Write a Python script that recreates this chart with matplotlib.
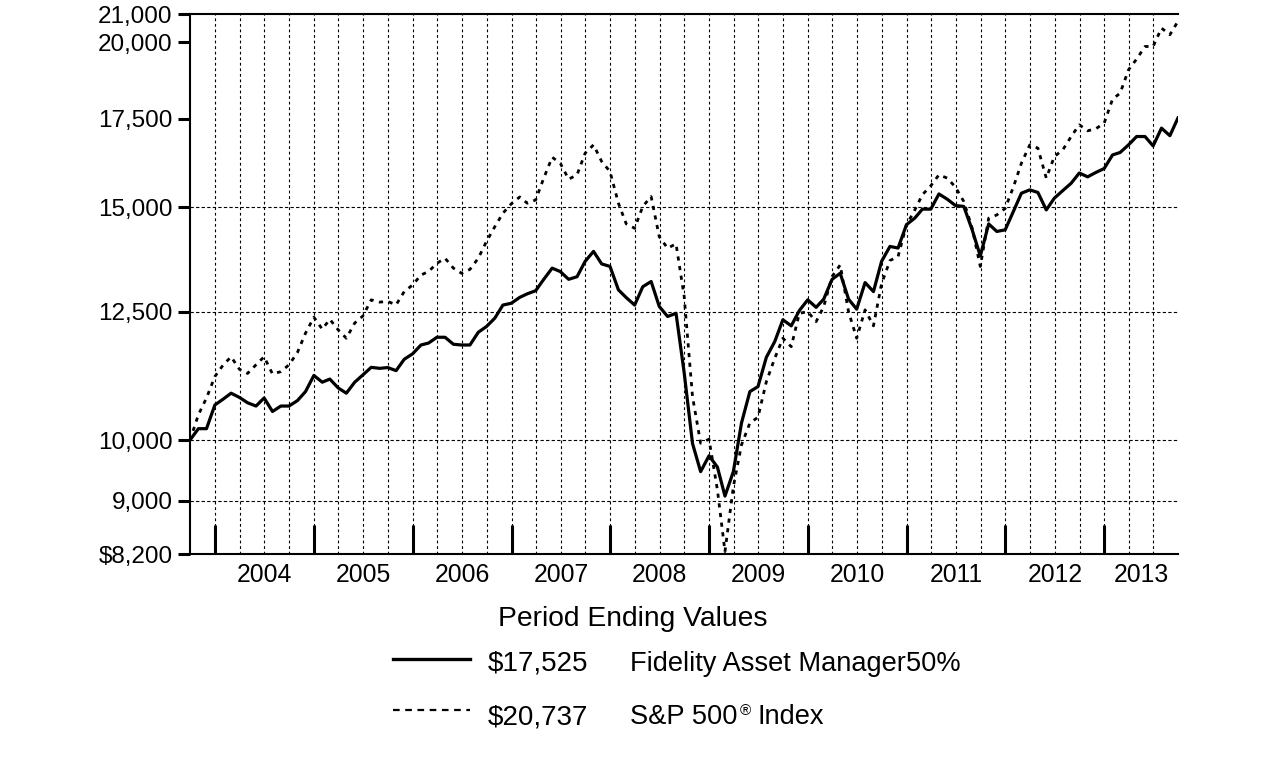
import numpy as np
import pandas as pd
import matplotlib.pyplot as plt
import matplotlib.dates as mdates
from matplotlib.lines import Line2D
from matplotlib.transforms import blended_transform_factory

plt.rcParams['font.family'] = ['Liberation Sans', 'DejaVu Sans']

# monthly values of a $10,000 investment, Sep 2003 .. Sep 2013
months = pd.date_range('2003-09-30', '2013-09-30', freq='ME')

fund = [
    10000, 10200, 10200, 10630, 10740, 10850, 10770, 10670, 10610, 10760,
    10510, 10610, 10610, 10710, 10880, 11190, 11060, 11120, 10950, 10850,
    11060, 11200, 11350, 11330, 11345, 11285, 11510, 11620, 11800, 11840,
    11960, 11960, 11815, 11800, 11800, 12065, 12185, 12365, 12650, 12690,
    12820, 12900, 12970, 13230, 13490, 13410, 13230, 13290, 13650, 13890,
    13590, 13530, 12990, 12815, 12650, 13060, 13180, 12620, 12400, 12470,
    11250, 9940, 9465, 9730, 9540, 9070, 9465, 10300, 10880, 10975,
    11550, 11870, 12330, 12200, 12530, 12765, 12600, 12780, 13230, 13370,
    12780, 12560, 13155, 12950, 13650, 14010, 13970, 14550, 14720, 14950,
    14950, 15350, 15210, 15045, 15020, 14420, 13780, 14570, 14380, 14420,
    14900, 15370, 15460, 15390, 14930, 15240, 15440, 15640, 15920, 15815,
    15935, 16045, 16430, 16500, 16720, 16965, 16965, 16690, 17215, 16990,
    17525,
]

sp500 = [
    10000, 10450, 10760, 11170, 11400, 11560, 11310, 11230, 11400, 11560,
    11220, 11265, 11400, 11645, 12045, 12385, 12130, 12340, 12115, 11940,
    12260, 12410, 12765, 12715, 12730, 12655, 12950, 13100, 13330, 13410,
    13605, 13725, 13490, 13370, 13460, 13725, 14130, 14500, 14845, 15090,
    15270, 15105, 15190, 15780, 16365, 16195, 15750, 15870, 16480, 16720,
    16245, 15960, 15105, 14570, 14460, 15020, 15280, 14250, 13965, 14075,
    12850, 10785, 9945, 10015, 9170, 8235, 9220, 9915, 10300, 10405,
    11070, 11530, 11940, 11765, 12470, 12505, 12290, 12615, 13295, 13565,
    12500, 11940, 12545, 12200, 13130, 13670, 13765, 14545, 14930, 15330,
    15570, 15870, 15780, 15535, 15150, 14460, 13530, 14715, 14800, 14970,
    15550, 16195, 16720, 16625, 15780, 16385, 16575, 16965, 17315, 17135,
    17195, 17365, 18105, 18295, 19055, 19415, 19845, 19845, 20490, 20255,
    20737,
]

years = list(range(2004, 2014))
y_ticks = [8200, 9000, 10000, 12500, 15000, 17500, 20000, 21000]
y_labels = [r'\$8,200', '9,000', '10,000', '12,500', '15,000', '17,500', '20,000', '21,000']
grid_y = [9000, 10000, 12500, 15000]

names = ['Fidelity Asset Manager50%', 'S&P 500', 'Index']
end_values = [r'\$17,525', r'\$20,737']

W, H = 1276, 761
fig = plt.figure(figsize=(W / 100, H / 100), dpi=100)
ax = fig.add_axes([190 / W, 1 - 554 / H, (1178 - 190) / W, (554 - 14) / H])

x = mdates.date2num(months)
ax.plot(x, fund, color='black', lw=2.3, zorder=3)
ax.plot(x, sp500, color='black', lw=2.0, linestyle=(0, (1.5, 2.0)), zorder=3)

ax.set_yscale('log')
ax.set_ylim(8200, 21000)
ax.set_xlim(x[0], x[-1])
ax.set_yticks(y_ticks)
ax.set_yticklabels(y_labels)
ax.yaxis.set_minor_locator(plt.NullLocator())
ax.tick_params(axis='y', which='major', direction='out', length=8.6, width=2.2,
               labelsize=17.5, pad=4)

# year boundary ticks and quarter gridlines
year_starts = mdates.date2num(pd.to_datetime([f'{y}-01-01' for y in years]))
quarters = pd.date_range('2004-01-01', '2013-07-01', freq='QS')
ax.set_xticks(year_starts)
ax.set_xticklabels([])
ax.tick_params(axis='x', which='major', direction='in', length=21, width=2.2)
ax.vlines(mdates.date2num(quarters), 8200, 21000, colors='black', lw=0.8,
          linestyles=(0, (2.5, 2.5)), zorder=1)
ax.hlines(grid_y, x[0], x[-1], colors='black', lw=0.8,
          linestyles=(0, (3, 2)), zorder=1)

# year labels centred in each year's span
trans = blended_transform_factory(ax.transData, ax.transAxes)
bounds = list(year_starts) + [mdates.date2num(pd.Timestamp('2014-01-01'))]
for k, yr in enumerate(years):
    a = max(bounds[k], x[0])
    b = min(bounds[k + 1], x[-1])
    ax.text((a + b) / 2, -0.039, str(yr), transform=trans, ha='center',
            va='center', fontsize=17.8)

for side in ['left', 'top', 'bottom']:
    ax.spines[side].set_linewidth(1.5)
ax.spines['right'].set_visible(False)

# legend block
def fx(px):
    return px / W

def fy(py):
    return 1 - py / H

fig.text(fx(633), fy(619), 'Period Ending Values', ha='center', va='center',
         fontsize=20.3)
fig.add_artist(Line2D([fx(393), fx(470)], [fy(659)] * 2, color='black', lw=2.4))
fig.add_artist(Line2D([fx(393), fx(470)], [fy(710)] * 2, color='black', lw=1.6,
                      linestyle=(0, (3, 2.5))))
fig.text(fx(488), fy(664), end_values[0], ha='left', va='center', fontsize=20)
fig.text(fx(488), fy(717), end_values[1], ha='left', va='center', fontsize=20)
fig.text(fx(630), fy(664), names[0], ha='left', va='center', fontsize=19.6)

renderer = fig.canvas.get_renderer()
t1 = fig.text(fx(630), fy(717), names[1], ha='left', va='center', fontsize=19.6)
bb1 = t1.get_window_extent(renderer)
t2 = fig.text(bb1.x1 / W + fx(2), fy(711), '\u00ae', ha='left', va='center',
              fontsize=11)
bb2 = t2.get_window_extent(renderer)
fig.text(bb2.x1 / W + fx(7), fy(717), names[2], ha='left', va='center',
         fontsize=19.6)

fig.savefig('out.png', dpi=100)
